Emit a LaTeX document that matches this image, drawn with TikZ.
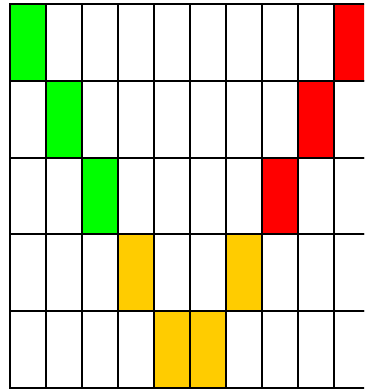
\documentclass[tikz,border=0pt]{standalone}
\usepackage{tikz}

\definecolor{vert}{HTML}{00FF00}
\definecolor{rouge}{HTML}{FF0000}
\definecolor{jaune}{HTML}{FFCC00}

\tikzset{
  case/.style={draw=black, line width=2pt}
}

\begin{document}
\begin{tikzpicture}[x=1pt, y=-1pt]

\useasboundingbox (0,0) rectangle (364,390);
\clip (0,0) rectangle (364,390);

% Cases colorees
\fill[vert] (10,4) rectangle (46,80.8);
\fill[vert] (46,80.8) rectangle (82,157.6);
\fill[vert] (82,157.6) rectangle (118,234.4);

\fill[rouge] (334,4) rectangle (370,80.8);
\fill[rouge] (298,80.8) rectangle (334,157.6);
\fill[rouge] (262,157.6) rectangle (298,234.4);

\fill[jaune] (118,234.4) rectangle (154,311.2);
\fill[jaune] (226,234.4) rectangle (262,311.2);
\fill[jaune] (154,311.2) rectangle (190,388);
\fill[jaune] (190,311.2) rectangle (226,388);

% Grille
\foreach \i in {0,...,9}{
  \foreach \j in {0,...,4}{
    \draw[case] (10+36*\i, 4+76.8*\j) rectangle ++(36,76.8);
  }
}

\end{tikzpicture}
\end{document}
